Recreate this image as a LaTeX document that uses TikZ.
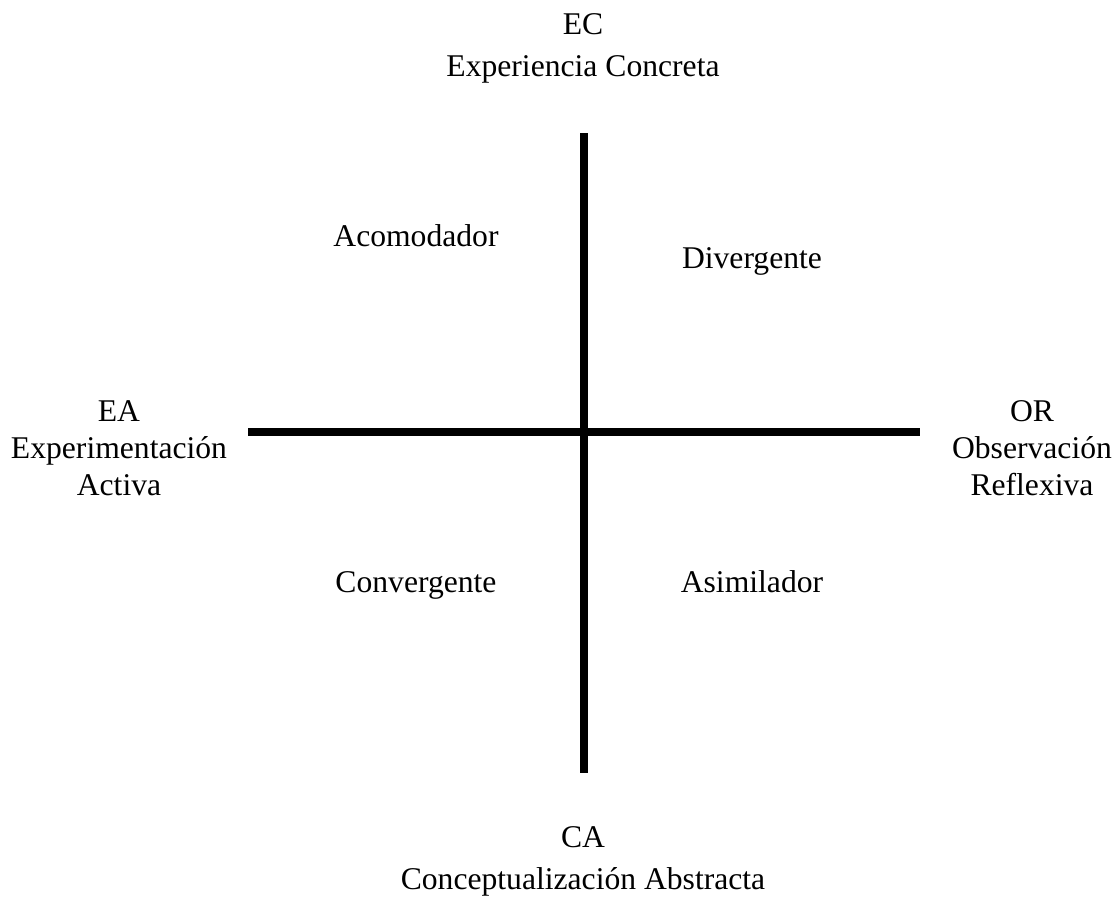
\documentclass[tikz,border=0pt]{standalone}
\usepackage{fontspec}
\setmainfont{Liberation Serif}
\usepackage{tikz}
\usetikzlibrary{positioning,calc}
\tikzset{pole/.style={align=center,inner sep=0pt,font=\fontsize{18}{21}\selectfont},
  wide pole/.style={pole,anchor=north,font=\fontsize{18}{24}\selectfont},
  style/.style={anchor=base,inner sep=0pt,font=\fontsize{18}{22}\selectfont},
  axis/.style={line width=0.16cm,draw=black}}

\begin{document}
\begin{tikzpicture}[x=0.02cm,y=-0.02cm]
\useasboundingbox (0,0) rectangle (1120,899);
\coordinate (top) at (584,133);
\coordinate (bottom) at (584,773);
\coordinate (left) at (248,432);
\coordinate (right) at (920,432);
\draw[axis] (top)--(bottom);
\draw[axis] (left)--(right);
\node[wide pole] (ec) at (583,13) {EC\\Experiencia Concreta};
\node[wide pole] (ca) at (583,826) {CA\\Conceptualización Abstracta};
\node[pole] (ea) at (119,448) {EA\\Experimentación\\Activa};
\node[pole] (or) at (1032,448) {OR\\Observación\\Reflexiva};
\node[style] (acom) at (416,246) {Acomodador};
\node[style] (div) at (752,268) {Divergente};
\node[style] (conv) at (416,592) {Convergente};
\node[style] (asim) at (752,592) {Asimilador};
\end{tikzpicture}
\end{document}
